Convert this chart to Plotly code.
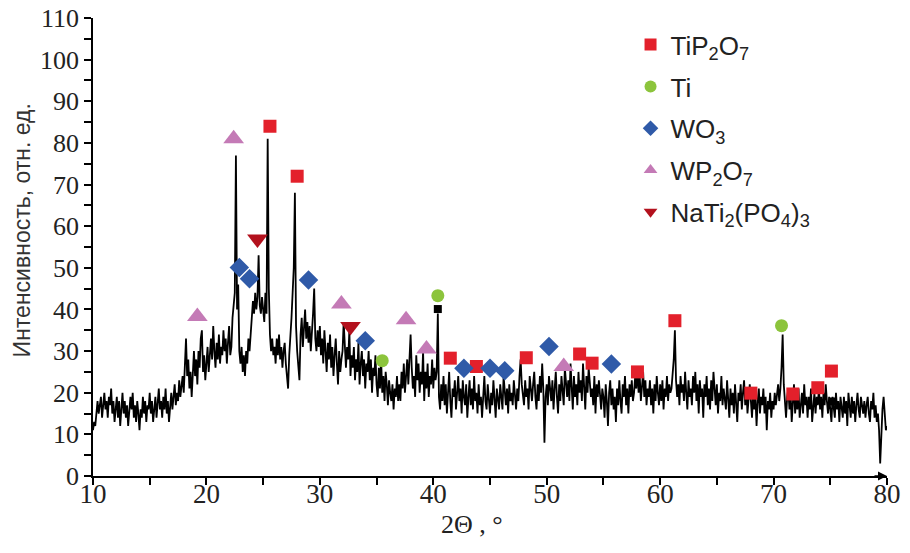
import plotly.graph_objects as go

theta_start = 10.0
theta_step = 0.1
intensity = [
    11, 13, 12, 16, 18, 15, 17, 19, 14, 17,   # 10
    20, 16, 18, 14, 19, 17, 21, 15, 18, 13,   # 11
    16, 19, 14, 18, 12, 17, 20, 15, 18, 14,   # 12
    17, 12, 15, 19, 16, 20, 14, 17, 13, 18,   # 13
    15, 11, 16, 14, 19, 15, 18, 13, 17, 16,   # 14
    20, 15, 18, 13, 16, 19, 14, 17, 21, 16,   # 15
    18, 14, 19, 16, 21, 15, 18, 13, 17, 20,   # 16
    16, 19, 22, 17, 20, 18, 23, 19, 21, 24,   # 17
    20, 26, 33, 24, 28, 21, 25, 19, 27, 30,   # 18
    24, 28, 22, 30, 26, 33, 35, 25, 29, 23,   # 19
    27, 31, 25, 29, 33, 28, 36, 30, 26, 32,   # 20
    28, 34, 27, 31, 29, 35, 30, 33, 27, 32,   # 21
    36, 29, 31, 38, 42, 44, 77, 40, 46, 30,   # 22
    27, 31, 25, 29, 24, 30, 27, 33, 30, 36,   # 23
    38, 42, 39, 44, 40, 43, 53, 41, 39, 43,   # 24
    40, 37, 44, 39, 81, 45, 34, 30, 33, 29,   # 25
    31, 27, 33, 29, 34, 28, 31, 26, 30, 32,   # 26
    27, 24, 21, 29, 33, 38, 44, 50, 68, 36,   # 27
    30, 26, 23, 34, 38, 31, 36, 40, 33, 37,   # 28
    32, 36, 30, 34, 39, 45, 33, 30, 35, 31,   # 29
    36, 29, 33, 27, 35, 30, 25, 32, 28, 34,   # 30
    26, 31, 24, 29, 33, 27, 22, 30, 25, 28,   # 31
    30, 37, 29, 26, 31, 28, 35, 24, 29, 26,   # 32
    31, 23, 28, 25, 32, 22, 27, 30, 24, 28,   # 33
    21, 27, 25, 30, 23, 28, 20, 26, 24, 29,   # 34
    22, 19, 26, 21, 28, 20, 24, 18, 25, 22,   # 35
    17, 23, 20, 18, 22, 16, 21, 19, 24, 18,   # 36
    22, 18, 25, 21, 27, 20, 24, 28, 22, 30,   # 37
    34, 26, 21, 24, 19, 29, 23, 27, 20, 25,   # 38
    22, 30, 18, 25, 21, 27, 19, 24, 22, 28,   # 39
    21, 26, 23, 25, 39, 19, 16, 22, 18, 24,   # 40
    17, 22, 15, 20, 25, 18, 14, 21, 19, 23,   # 41
    16, 20, 24, 18, 21, 15, 23, 19, 17, 22,   # 42
    14, 19, 23, 17, 21, 16, 24, 18, 20, 15,   # 43
    22, 17, 19, 14, 21, 24, 18, 16, 22, 19,   # 44
    15, 20, 17, 23, 19, 14, 21, 18, 16, 22,   # 45
    19, 16, 24, 20, 17, 21, 15, 22, 18, 20,   # 46
    17, 23, 19, 16, 21, 18, 24, 28, 22, 19,   # 47
    17, 23, 19, 21, 16, 24, 20, 18, 22, 25,   # 48
    19, 16, 22, 18, 24, 20, 27, 21, 8, 19,    # 49
    22, 17, 24, 20, 18, 23, 16, 21, 25, 19,   # 50
    15, 22, 18, 24, 20, 17, 26, 21, 19, 23,   # 51
    18, 27, 21, 16, 24, 19, 22, 17, 25, 20,   # 52
    23, 18, 27, 21, 16, 24, 20, 26, 22, 19,   # 53
    21, 17, 24, 15, 22, 19, 23, 18, 16, 21,   # 54
    19, 14, 22, 18, 12, 20, 23, 17, 21, 16,   # 55
    19, 13, 21, 17, 23, 18, 15, 22, 19, 24,   # 56
    17, 21, 15, 22, 19, 23, 18, 20, 24, 21,   # 57
    26, 20, 24, 18, 22, 25, 19, 23, 17, 21,   # 58
    19, 23, 17, 21, 15, 22, 18, 24, 20, 17,   # 59
    22, 18, 23, 16, 21, 19, 24, 18, 22, 20,   # 60
    21, 24, 28, 35, 23, 19, 22, 17, 24, 20,   # 61
    22, 18, 25, 20, 16, 23, 19, 21, 17, 24,   # 62
    20, 25, 18, 22, 15, 23, 19, 21, 14, 22,   # 63
    19, 24, 17, 21, 16, 23, 18, 25, 20, 17,   # 64
    22, 15, 20, 18, 24, 17, 21, 19, 16, 23,   # 65
    19, 14, 21, 17, 20, 15, 22, 18, 13, 20,   # 66
    18, 22, 16, 20, 23, 17, 21, 15, 19, 22,   # 67
    18, 14, 20, 16, 19, 12, 18, 21, 15, 19,   # 68
    17, 21, 15, 19, 11, 18, 16, 20, 14, 18,   # 69
    16, 20, 17, 19, 22, 18, 21, 26, 34, 22,   # 70
    17, 14, 19, 21, 16, 20, 13, 18, 22, 15,   # 71
    19, 16, 21, 14, 18, 20, 15, 22, 17, 19,   # 72
    14, 19, 16, 21, 13, 18, 20, 15, 19, 17,   # 73
    21, 16, 19, 14, 20, 17, 22, 18, 15, 19,   # 74
    16, 13, 19, 17, 14, 20, 16, 18, 13, 19,   # 75
    17, 14, 19, 15, 18, 12, 20, 16, 14, 19,   # 76
    15, 18, 13, 17, 20, 16, 14, 19, 17, 15,   # 77
    18, 14, 17, 19, 15, 13, 18, 16, 20, 14,   # 78
    17, 13, 15, 11, 3, 12, 16, 19, 14, 11,    # 79
    12,                                       # 80
]
two_theta = [round(theta_start + i * theta_step, 1) for i in range(len(intensity))]

# ---- phase markers ----
tip2o7_x = [25.6, 28.0, 41.5, 43.8, 48.2, 52.9, 54.0, 58.0, 61.3, 68.0, 71.7, 73.9, 75.1]
tip2o7_y = [84.0, 72.0, 28.3, 26.3, 28.4, 29.3, 27.1, 25.0, 37.3, 19.9, 19.7, 21.2, 25.2]
ti_x = [35.5, 40.4, 70.7]
ti_y = [27.7, 43.3, 36.1]
wo3_x = [22.9, 23.8, 29.0, 34.0, 42.7, 45.0, 46.3, 50.2, 55.7]
wo3_y = [50.1, 47.4, 47.1, 32.5, 25.9, 25.9, 25.3, 31.1, 26.9]
wp2o7_x = [19.2, 22.4, 31.9, 37.6, 39.4, 51.5]
wp2o7_y = [38.3, 81.0, 41.3, 37.5, 30.5, 26.3]
nati_x = [24.5, 32.7]
nati_y = [56.9, 35.9]
black_x = [40.4, 75.2]
black_y = [40.1, 17.9]

x_ticks = [10, 20, 30, 40, 50, 60, 70, 80]
y_ticks = [0, 10, 20, 30, 40, 50, 60, 70, 80, 90, 100, 110]

fig = go.Figure()
fig.add_trace(go.Scatter(x=two_theta, y=intensity, mode="lines",
                         line=dict(color="black", width=1.8), showlegend=False,
                         hoverinfo="skip"))
fig.add_trace(go.Scatter(x=black_x, y=black_y, mode="markers",
                         marker=dict(symbol="square", size=8, color="black"),
                         showlegend=False))

series = [
    ("TiP<sub>2</sub>O<sub>7</sub>", tip2o7_x, tip2o7_y, "square", 13, "#e3202b"),
    ("Ti", ti_x, ti_y, "circle", 13, "#8cc43c"),
    ("WO<sub>3</sub>", wo3_x, wo3_y, "diamond", 15, "#2f5aa8"),
    ("WP<sub>2</sub>O<sub>7</sub>", wp2o7_x, wp2o7_y, "triangle-up", 18, "#c47ab6"),
    ("NaTi<sub>2</sub>(PO<sub>4</sub>)<sub>3</sub>", nati_x, nati_y, "triangle-down", 18, "#b3111d"),
]
for i, (name, xs, ys, sym, sz, col) in enumerate(series):
    fig.add_trace(go.Scatter(x=xs, y=ys, mode="markers", name=name,
                             legendgroup=f"g{i}",
                             marker=dict(symbol=sym, size=sz, color=col,
                                         line=dict(width=0))))

x_font = dict(family="Liberation Serif", size=27, color="#222")
y_font = dict(family="Liberation Serif", size=26, color="#222")
fig.update_layout(
    width=910, height=553,
    margin=dict(l=93, r=23, t=18, b=77),
    paper_bgcolor="white", plot_bgcolor="white",
    showlegend=True,
    legend=dict(x=0.677, y=0.993, xanchor="left", yanchor="top",
                font=dict(family="Liberation Sans", size=26, color="#222"),
                tracegroupgap=5, traceorder="grouped",
                bgcolor="rgba(0,0,0,0)", itemsizing="constant"),
    xaxis=dict(range=[10, 80], tickvals=x_ticks, ticks="outside", ticklen=7,
               tickwidth=1.5, tickcolor="black", showline=True, linecolor="black",
               linewidth=1.5, showgrid=False, zeroline=False, tickfont=x_font,
               automargin=False, ticklabelstandoff=-14, ticklabeloverflow="allow",
               minor=dict(dtick=5, ticks="outside", ticklen=7, tickwidth=1.5,
                          tickcolor="black", showgrid=False)),
    yaxis=dict(range=[0, 110], tickvals=y_ticks, ticks="outside", ticklen=7,
               tickwidth=1.5, tickcolor="black", showline=True, linecolor="black",
               linewidth=1.5, showgrid=False, zeroline=False, tickfont=y_font,
               automargin=False, ticklabeloverflow="allow",
               minor=dict(dtick=5, ticks="outside", ticklen=7, tickwidth=1.5,
                          tickcolor="black", showgrid=False)),
)
# y-axis title
fig.add_annotation(text="Интенсивность, отн. ед.", xref="paper", yref="paper",
                   x=-0.089, y=0.537, xanchor="center", yanchor="middle",
                   textangle=-90, showarrow=False,
                   font=dict(family="Liberation Sans", size=23, color="#333"))
# x-axis title, placed slightly left of centre as in the original
fig.add_annotation(text="2Θ , °", xref="paper", yref="paper", x=0.477, y=-0.105,
                   xanchor="center", yanchor="middle", showarrow=False,
                   font=dict(family="Liberation Serif", size=26, color="#222"))
# arrow head at the end of the x axis
fig.add_annotation(x=80, y=0, xref="x", yref="y", ax=-14, ay=0,
                   showarrow=True, arrowhead=2, arrowsize=1.2, arrowwidth=1.5,
                   arrowcolor="black", text="")

# remove the default page margin so the 910x553 figure fills the window exactly
fig.write_html("out.html", config={"displayModeBar": False},
               post_script="document.body.style.margin='0';document.body.style.overflow='hidden';")
